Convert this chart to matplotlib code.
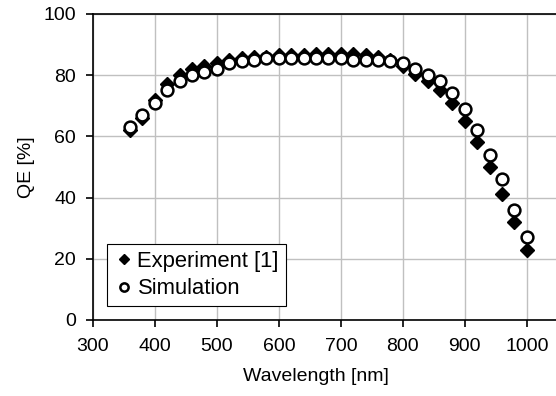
import numpy as np
import matplotlib.pyplot as plt

plt.rcParams['font.family'] = ['Liberation Sans', 'DejaVu Sans']

wavelength = [360, 380, 400, 420, 440, 460, 480, 500, 520, 540, 560, 580,
              600, 620, 640, 660, 680, 700, 720, 740, 760, 780, 800, 820,
              840, 860, 880, 900, 920, 940, 960, 980, 1000]
qe_experiment = [62, 66, 72, 77, 80, 82, 83, 84, 85, 85.5, 86, 86,
                 86.5, 86.5, 86.5, 87, 87, 87, 87, 86.5, 86, 85, 83, 80.5,
                 78, 75, 71, 65, 58, 50, 41, 32, 23]
qe_simulation = [63, 67, 71, 75, 78, 80, 81, 82, 84, 84.5, 85, 85.5,
                 85.5, 85.5, 85.5, 85.5, 85.5, 85.5, 85, 85, 85, 84.6, 84, 82,
                 80, 78, 74, 69, 62, 54, 46, 36, 27]

fig = plt.figure(figsize=(5.56, 3.96), dpi=100)
ax = fig.add_axes([0.167, 0.192, 0.833, 0.773])

ax.plot(wavelength, qe_experiment, linestyle='none', marker='D', markersize=7.5,
        color='black', label='Experiment [1]')
ax.plot(wavelength, qe_simulation, linestyle='none', marker='o', markersize=8.5,
        markerfacecolor='white', markeredgecolor='black', markeredgewidth=1.8,
        label='Simulation')

ax.set_xlim(300, 1047)
ax.set_ylim(0, 100)
ax.set_xticks(np.arange(300, 1001, 100))
ax.set_yticks(np.arange(0, 101, 20))
ax.grid(color='#c0c0c0', linewidth=1)
ax.set_axisbelow(True)
ax.spines['right'].set_visible(False)
for s in ['left', 'bottom', 'top']:
    ax.spines[s].set_linewidth(1.2)
ax.tick_params(direction='out', length=5, width=1.2, labelsize=14)
ax.tick_params(axis='x', pad=8)
ax.tick_params(axis='y', pad=7)
ax.set_xlabel('Wavelength [nm]', fontsize=14)
ax.set_ylabel('QE [%]', fontsize=14)
ax.xaxis.set_label_coords(0.482, -0.157)
ax.yaxis.set_label_coords(-0.125, 0.5)

leg = ax.legend(loc='lower left', bbox_to_anchor=(0.030, 0.046), borderaxespad=0,
                fontsize=15.8, frameon=True, fancybox=False, edgecolor='black',
                handletextpad=0.1, handlelength=1.0, borderpad=0.3,
                labelspacing=0.3, markerscale=0.7, framealpha=1)
leg.get_frame().set_linewidth(0.8)

fig.savefig('out.png', dpi=100)
